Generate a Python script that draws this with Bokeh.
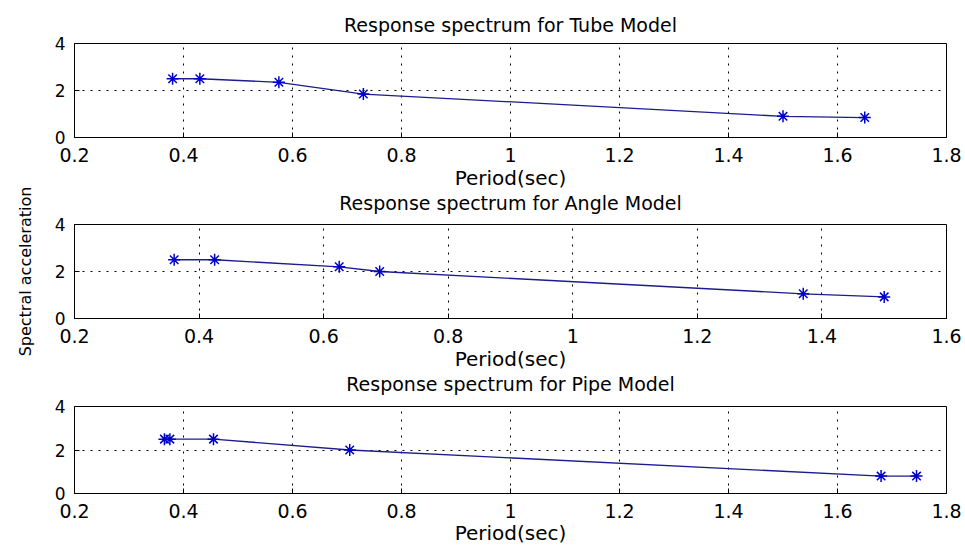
import math
from bokeh.plotting import figure
from bokeh.models import Range1d, FixedTicker, Title, Label
from bokeh.layouts import column, row
from bokeh.embed import file_html
from bokeh.resources import INLINE

# ---------------- data ----------------
titles = ["Response spectrum for Tube Model",
          "Response spectrum for Angle Model",
          "Response spectrum for Pipe Model"]

tube_period = [0.38, 0.43, 0.575, 0.73, 1.50, 1.65]
tube_sa = [2.5, 2.5, 2.35, 1.85, 0.9, 0.85]

angle_period = [0.36, 0.425, 0.625, 0.69, 1.37, 1.50]
angle_sa = [2.5, 2.5, 2.2, 2.0, 1.05, 0.92]

pipe_period = [0.365, 0.375, 0.455, 0.705, 1.68, 1.745]
pipe_sa = [2.5, 2.5, 2.5, 2.0, 0.8, 0.8]

xticks_18 = [0.2, 0.4, 0.6, 0.8, 1.0, 1.2, 1.4, 1.6, 1.8]
xlabels_18 = ["0.2", "0.4", "0.6", "0.8", "1", "1.2", "1.4", "1.6", "1.8"]
xticks_16 = [0.2, 0.4, 0.6, 0.8, 1.0, 1.2, 1.4, 1.6]
xlabels_16 = ["0.2", "0.4", "0.6", "0.8", "1", "1.2", "1.4", "1.6"]
yticks = [0, 2, 4]
ylabels = ["0", "2", "4"]

x_label = "Period(sec)"
y_label = "Spectral acceleration"

# ---------------- style ----------------
FONT = "DejaVu Sans"
LINE_COLOR = "#1c1c8c"
MARK_COLOR = "#0000cc"
LEFT_W = 45
W = 965 - LEFT_W
FRAME_L = 74 - LEFT_W
FRAME_R = 965 - 946


def style_title(t, standoff):
    t.text_font = FONT
    t.text_font_size = "19px"
    t.text_font_style = "normal"
    t.text_color = "black"
    t.align = "center"
    t.standoff = standoff


def panel(xs, ys, xticks, xlabels, height, top, bottom,
          tick_standoff, label_standoff, top_title=None, below_title=None,
          below_standoff=0):
    p = figure(width=W, height=height,
               x_range=Range1d(xticks[0], xticks[-1]),
               y_range=Range1d(yticks[0], yticks[-1]),
               output_backend="svg", toolbar_location=None,
               min_border_left=FRAME_L, min_border_right=FRAME_R,
               min_border_top=top, min_border_bottom=bottom,
               title=top_title)
    p.background_fill_color = "white"
    p.border_fill_color = "white"
    p.outline_line_color = "black"
    p.outline_line_width = 1
    if top_title is not None:
        style_title(p.title, 15)

    xt = FixedTicker(ticks=xticks)
    yt = FixedTicker(ticks=yticks)

    for ax in (p.xaxis[0], p.yaxis[0]):
        ax.major_tick_in = 5
        ax.major_tick_out = 0
        ax.minor_tick_line_color = None
        ax.axis_line_color = "black"
        ax.major_tick_line_color = "black"
        ax.major_label_text_font = FONT
        ax.major_label_text_color = "black"
        ax.axis_label_text_font = FONT
        ax.axis_label_text_font_style = "normal"
        ax.axis_label_text_color = "black"

    p.xaxis[0].ticker = xt
    p.xaxis[0].major_label_overrides = dict(zip(xticks, xlabels))
    p.xaxis[0].major_label_text_font_size = "19px"
    p.xaxis[0].major_label_standoff = tick_standoff
    p.xaxis[0].axis_label = x_label
    p.xaxis[0].axis_label_text_font_size = "20px"
    p.xaxis[0].axis_label_standoff = label_standoff

    p.yaxis[0].ticker = yt
    p.yaxis[0].major_label_overrides = dict(zip(yticks, ylabels))
    p.yaxis[0].major_label_text_font_size = "17px"
    p.yaxis[0].major_label_standoff = 9

    if below_title is not None:
        t = Title(text=below_title)
        style_title(t, below_standoff)
        p.add_layout(t, "below")

    p.xgrid.ticker = xt
    p.ygrid.ticker = yt
    for g in (p.xgrid, p.ygrid):
        g.grid_line_color = "black"
        g.grid_line_dash = "2 6"
        g.grid_line_width = 1
        g.grid_line_alpha = 1.0

    p.line(xs, ys, line_color=LINE_COLOR, line_width=1.3)
    p.scatter(xs, ys, marker="asterisk", size=12,
              line_color=MARK_COLOR, line_width=1.5)
    return p


# figure 1: rows 0..214, frame 43..137
p1 = panel(tube_period, tube_sa, xticks_18, xlabels_18,
           height=214, top=43, bottom=77,
           tick_standoff=10, label_standoff=1,
           top_title=titles[0], below_title=titles[1], below_standoff=-6)
# figure 2: rows 214..396, frame 224..318
p2 = panel(angle_period, angle_sa, xticks_16, xlabels_16,
           height=182, top=10, bottom=78,
           tick_standoff=10, label_standoff=1,
           below_title=titles[2], below_standoff=-5)
# figure 3: rows 396..549, frame 406..493
p3 = panel(pipe_period, pipe_sa, xticks_18, xlabels_18,
           height=153, top=10, bottom=56,
           tick_standoff=10, label_standoff=0)

# left strip carrying the shared y-axis title
lab = figure(width=LEFT_W, height=549, output_backend="svg",
             toolbar_location=None, x_range=Range1d(0, 1),
             y_range=Range1d(0, 1), min_border=0, title=None)
lab.axis.visible = False
lab.grid.visible = False
lab.outline_line_color = None
lab.background_fill_color = "white"
lab.border_fill_color = "white"
lab.add_layout(Label(x=25, y=549 - 271, x_units="screen", y_units="screen",
                     text=y_label, angle=math.pi / 2,
                     text_align="center", text_baseline="middle",
                     text_font=FONT, text_font_size="16px",
                     text_color="black"))

layout = row(lab, column(p1, p2, p3, spacing=0), spacing=0)

open("out.html", "w").write(file_html(layout, INLINE))
